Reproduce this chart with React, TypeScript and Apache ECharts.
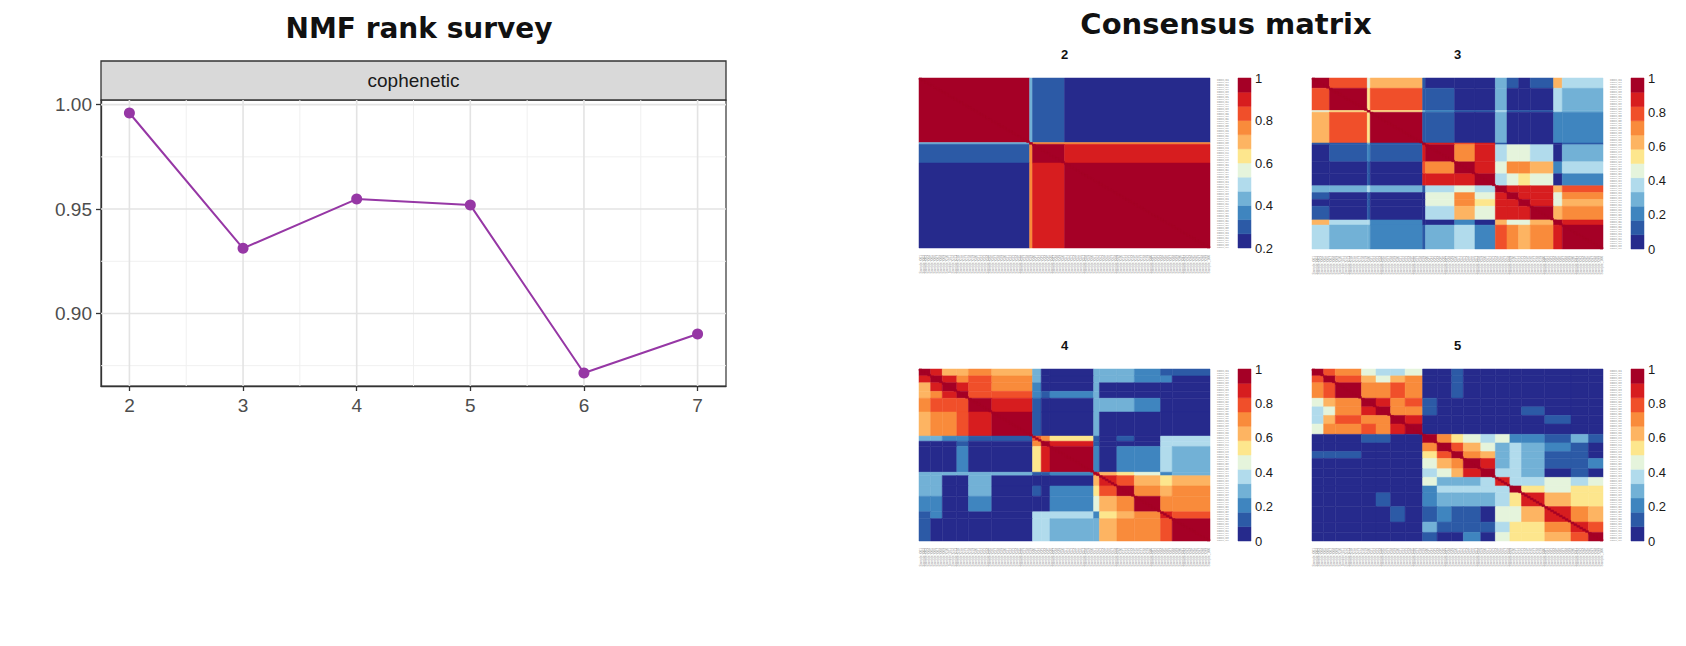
import React, { useEffect, useRef } from "react";
import * as echarts from "echarts";

// ---- NMF rank survey (cophenetic coefficient per factorization rank) ----
const RANKS = [2, 3, 4, 5, 6, 7];
const COPHENETIC = [0.996, 0.9312, 0.9548, 0.9519, 0.8715, 0.8902];
const X_TICKS = [2, 3, 4, 5, 6, 7];
const X_MINOR = [2.5, 3.5, 4.5, 5.5, 6.5];
const Y_TICKS = [0.9, 0.95, 1.0];
const Y_MINOR = [0.875, 0.925, 0.975];
const X_RANGE = [1.75, 7.25];
const Y_RANGE = [0.86527, 1.00223];

// ---- Consensus matrices: samples ordered by clustering, stored as a block matrix ----
// Each block matrix is given by segment sizes (samples per block) and the
// lower triangle of block-level consensus values (the matrix is symmetric).
const SAMPLES = Array.from({ length: 100 }, (_, i) => `Sample_${String(i + 1).padStart(3, "0")}`);

const K2_SEGMENTS = [38, 1, 11, 50];
const K2_LOWER = [
  [1.0],
  [0.44, 1.0],
  [0.3, 0.76, 0.97],
  [0.21, 0.76, 0.9, 0.97],
];
const K2_RANGE = [0.2, 1];

const K3_SEGMENTS = [6, 13, 1, 18, 1, 10, 7, 7, 4, 4, 4, 8, 3, 14];
const K3_LOWER = [
  [0.96],
  [0.8, 0.96],
  [0.45, 0.55, 1.0],
  [0.62, 0.8, 0.55, 0.96],
  [0.12, 0.12, 0.3, 0.12, 1.0],
  [0.03, 0.15, 0.2, 0.15, 0.9, 0.93],
  [0.03, 0.03, 0.1, 0.03, 0.75, 0.72, 0.96],
  [0.03, 0.03, 0.1, 0.03, 0.85, 0.88, 0.9, 0.94],
  [0.3, 0.3, 0.35, 0.28, 0.1, 0.35, 0.45, 0.38, 0.93],
  [0.15, 0.06, 0.15, 0.06, 0.05, 0.42, 0.7, 0.45, 0.88, 0.96],
  [0.03, 0.03, 0.1, 0.03, 0.05, 0.42, 0.7, 0.5, 0.88, 0.88, 0.95],
  [0.15, 0.03, 0.1, 0.03, 0.05, 0.36, 0.6, 0.45, 0.85, 0.88, 0.88, 0.95],
  [0.62, 0.38, 0.4, 0.2, 0.05, 0.05, 0.2, 0.08, 0.6, 0.45, 0.45, 0.6, 0.96],
  [0.36, 0.28, 0.3, 0.2, 0.15, 0.28, 0.35, 0.2, 0.8, 0.68, 0.62, 0.7, 0.88, 0.95],
];
const K3_RANGE = [0, 1];

const K4_SEGMENTS = [4, 4, 5, 4, 8, 14, 3, 3, 15, 2, 6, 6, 9, 4, 13];
const K4_LOWER = [
  [0.95],
  [0.85, 0.95],
  [0.62, 0.85, 0.93],
  [0.62, 0.72, 0.87, 0.93],
  [0.72, 0.78, 0.8, 0.8, 0.95],
  [0.66, 0.7, 0.72, 0.75, 0.88, 0.96],
  [0.3, 0.25, 0.2, 0.2, 0.15, 0.12, 0.8],
  [0.05, 0.05, 0.05, 0.12, 0.05, 0.05, 0.72, 0.95],
  [0.03, 0.03, 0.03, 0.2, 0.03, 0.03, 0.55, 0.85, 0.95],
  [0.3, 0.25, 0.25, 0.25, 0.25, 0.25, 0.15, 0.1, 0.2, 0.85],
  [0.28, 0.28, 0.05, 0.05, 0.25, 0.03, 0.05, 0.05, 0.05, 0.6, 0.9],
  [0.28, 0.28, 0.05, 0.05, 0.25, 0.03, 0.1, 0.05, 0.2, 0.5, 0.8, 0.92],
  [0.18, 0.18, 0.05, 0.05, 0.18, 0.03, 0.05, 0.05, 0.2, 0.45, 0.65, 0.72, 0.96],
  [0.15, 0.2, 0.05, 0.05, 0.05, 0.03, 0.4, 0.4, 0.4, 0.2, 0.55, 0.62, 0.7, 0.9],
  [0.1, 0.05, 0.03, 0.03, 0.03, 0.03, 0.4, 0.35, 0.32, 0.25, 0.64, 0.7, 0.68, 0.8, 0.95],
];
const K4_RANGE = [0, 1];

const K5_SEGMENTS = [4, 4, 9, 5, 5, 5, 6, 5, 5, 4, 6, 5, 5, 4, 8, 9, 6, 5];
const K5_LOWER = [
  [0.95],
  [0.8, 0.95],
  [0.68, 0.8, 0.92],
  [0.45, 0.62, 0.7, 0.95],
  [0.35, 0.45, 0.7, 0.85, 0.95],
  [0.4, 0.62, 0.78, 0.7, 0.7, 0.95],
  [0.48, 0.7, 0.7, 0.78, 0.7, 0.88, 0.96],
  [0.03, 0.03, 0.03, 0.15, 0.15, 0.03, 0.03, 0.92],
  [0.03, 0.03, 0.03, 0.03, 0.03, 0.03, 0.03, 0.7, 0.95],
  [0.12, 0.12, 0.12, 0.03, 0.03, 0.03, 0.03, 0.55, 0.76, 0.93],
  [0.03, 0.03, 0.03, 0.08, 0.03, 0.03, 0.03, 0.45, 0.65, 0.7, 0.93],
  [0.03, 0.03, 0.03, 0.03, 0.03, 0.03, 0.03, 0.38, 0.48, 0.66, 0.85, 0.95],
  [0.03, 0.03, 0.03, 0.03, 0.03, 0.03, 0.03, 0.42, 0.33, 0.32, 0.3, 0.35, 0.9],
  [0.03, 0.03, 0.03, 0.03, 0.03, 0.03, 0.03, 0.2, 0.38, 0.38, 0.35, 0.4, 0.4, 0.92],
  [0.03, 0.03, 0.03, 0.03, 0.12, 0.03, 0.03, 0.22, 0.3, 0.32, 0.3, 0.25, 0.35, 0.5, 0.88],
  [0.03, 0.03, 0.03, 0.03, 0.03, 0.1, 0.03, 0.12, 0.2, 0.1, 0.15, 0.08, 0.42, 0.42, 0.6, 0.9],
  [0.03, 0.03, 0.03, 0.03, 0.03, 0.03, 0.03, 0.25, 0.1, 0.12, 0.15, 0.1, 0.35, 0.55, 0.5, 0.72, 0.88],
  [0.03, 0.03, 0.03, 0.03, 0.03, 0.03, 0.03, 0.12, 0.05, 0.08, 0.2, 0.05, 0.42, 0.5, 0.55, 0.66, 0.78, 0.93],
];
const K5_RANGE = [0, 1];

// Stepped reversed RdYlBu palette, low (navy) to high (dark red)
const BAND_COLORS = [
  "#262a8c", "#2c5aa6", "#3f85bf", "#72b1d6", "#b1dbec", "#e5f4dc",
  "#fde68d", "#fdb462", "#f98b3b", "#f04f2a", "#d71d1f", "#a50026",
];

const SANS = "'Liberation Sans', Arial, sans-serif";
const TITLE_FONT = "'DejaVu Sans', sans-serif";

type Panel = {
  rank: string;
  segments: number[];
  lower: number[][];
  range: number[];
  left: number;
  top: number;
  width: number;
  height: number;
  barLeft: number;
};

const PANELS: Panel[] = [
  { rank: "2", segments: K2_SEGMENTS, lower: K2_LOWER, range: K2_RANGE, left: 919, top: 78, width: 291, height: 170, barLeft: 1238 },
  { rank: "3", segments: K3_SEGMENTS, lower: K3_LOWER, range: K3_RANGE, left: 1312, top: 78, width: 291, height: 171, barLeft: 1631 },
  { rank: "4", segments: K4_SEGMENTS, lower: K4_LOWER, range: K4_RANGE, left: 919, top: 369, width: 291, height: 172, barLeft: 1238 },
  { rank: "5", segments: K5_SEGMENTS, lower: K5_LOWER, range: K5_RANGE, left: 1312, top: 369, width: 291, height: 172, barLeft: 1631 },
];

function bandColor(v: number, lo: number, hi: number): string {
  const n = BAND_COLORS.length;
  let idx = Math.floor(((v - lo) / (hi - lo)) * n);
  if (idx < 0) idx = 0;
  if (idx > n - 1) idx = n - 1;
  return BAND_COLORS[idx];
}

// Expand a symmetric block matrix into rectangles [x0, x1, y0, y1, value]
function blockCells(segments: number[], lower: number[][]) {
  const starts: number[] = [];
  let acc = 0;
  segments.forEach((s) => {
    starts.push(acc);
    acc += s;
  });
  const cells: number[][] = [];
  for (let i = 0; i < segments.length; i++) {
    for (let j = 0; j < segments.length; j++) {
      const v = i >= j ? lower[i][j] : lower[j][i];
      cells.push([starts[j], starts[j] + segments[j], starts[i], starts[i] + segments[i], v]);
    }
  }
  return cells;
}

function rectItem(api: any, fill: string) {
  const p0 = api.coord([api.value(0), api.value(2)]);
  const p1 = api.coord([api.value(1), api.value(3)]);
  return {
    type: "rect",
    shape: {
      x: Math.min(p0[0], p1[0]),
      y: Math.min(p0[1], p1[1]),
      width: Math.abs(p1[0] - p0[0]),
      height: Math.abs(p1[1] - p0[1]),
    },
    style: { fill, stroke: fill, lineWidth: 0.5 },
  };
}

function buildOption() {
  const grids: any[] = [
    { left: 101, top: 100, width: 625, height: 286, show: true, borderColor: "#333", borderWidth: 1.2, backgroundColor: "#fff" },
  ];
  const xAxes: any[] = [
    {
      type: "value",
      gridIndex: 0,
      min: X_RANGE[0],
      max: X_RANGE[1],
      axisLine: { show: true, onZero: false, lineStyle: { color: "#333", width: 1.3 } },
      axisTick: { show: true, length: 5, customValues: X_TICKS, lineStyle: { color: "#333", width: 1.3 } },
      axisLabel: { customValues: X_TICKS, fontSize: 19, color: "#4d4d4d", margin: 10, fontFamily: SANS },
      splitLine: { show: false },
    },
  ];
  const yAxes: any[] = [
    {
      type: "value",
      gridIndex: 0,
      min: Y_RANGE[0],
      max: Y_RANGE[1],
      axisLine: { show: true, onZero: false, lineStyle: { color: "#333", width: 1.3 } },
      axisTick: { show: true, length: 5, customValues: Y_TICKS, lineStyle: { color: "#333", width: 1.3 } },
      axisLabel: {
        customValues: Y_TICKS,
        fontSize: 19,
        color: "#4d4d4d",
        margin: 9,
        fontFamily: SANS,
        formatter: (v: number) => v.toFixed(2),
      },
      splitLine: { show: false },
    },
  ];

  const gridLineSeries = (values: number[], vertical: boolean, color: string, width: number) => ({
    type: "custom",
    xAxisIndex: 0,
    yAxisIndex: 0,
    silent: true,
    z: 1,
    data: values.map((v) => (vertical ? [v, Y_RANGE[0]] : [X_RANGE[0], v])),
    renderItem: (_p: any, api: any) => {
      const v = vertical ? api.value(0) : api.value(1);
      const a = vertical ? api.coord([v, Y_RANGE[0]]) : api.coord([X_RANGE[0], v]);
      const b = vertical ? api.coord([v, Y_RANGE[1]]) : api.coord([X_RANGE[1], v]);
      return {
        type: "line",
        shape: { x1: a[0], y1: a[1], x2: b[0], y2: b[1] },
        style: { stroke: color, lineWidth: width },
      };
    },
  });

  const series: any[] = [
    gridLineSeries(Y_MINOR, false, "#f0f0f0", 1),
    gridLineSeries(X_MINOR, true, "#f0f0f0", 1),
    gridLineSeries(Y_TICKS, false, "#e3e3e3", 1.6),
    gridLineSeries(X_TICKS, true, "#e3e3e3", 1.6),
    {
      type: "line",
      name: "cophenetic",
      xAxisIndex: 0,
      yAxisIndex: 0,
      z: 3,
      data: RANKS.map((r, i) => [r, COPHENETIC[i]]),
      symbol: "circle",
      symbolSize: 11,
      itemStyle: { color: "#9637a5" },
      lineStyle: { color: "#9637a5", width: 2 },
    },
  ];

  const graphics: any[] = [
    {
      type: "text",
      x: 419,
      y: 28,
      style: { text: "NMF rank survey", font: `bold 28px ${TITLE_FONT}`, fill: "#111", textAlign: "center", textVerticalAlign: "middle" },
    },
    {
      type: "text",
      x: 1226,
      y: 24,
      style: { text: "Consensus matrix", font: `bold 29px ${TITLE_FONT}`, fill: "#111", textAlign: "center", textVerticalAlign: "middle" },
    },
    {
      type: "rect",
      shape: { x: 101, y: 61, width: 625, height: 39 },
      style: { fill: "#d9d9d9", stroke: "#333", lineWidth: 1.3 },
    },
    {
      type: "text",
      x: 413.5,
      y: 80.5,
      style: { text: "cophenetic", font: `19px ${SANS}`, fill: "#1a1a1a", textAlign: "center", textVerticalAlign: "middle" },
    },
  ];

  const N = SAMPLES.length;
  PANELS.forEach((p) => {
    const [lo, hi] = p.range;

    // heatmap
    const gi = grids.length;
    grids.push({ left: p.left, top: p.top, width: p.width, height: p.height });
    const xv = xAxes.length;
    xAxes.push({ type: "value", gridIndex: gi, min: 0, max: N, show: false, position: "top" });
    xAxes.push({
      type: "category",
      gridIndex: gi,
      data: SAMPLES,
      position: "bottom",
      axisLine: { show: false },
      axisTick: { show: false },
      splitLine: { show: false },
      axisLabel: { interval: 0, rotate: 90, fontSize: 3.3, color: "#8f8f8f", margin: 7, fontFamily: SANS },
    });
    const yv = yAxes.length;
    yAxes.push({ type: "value", gridIndex: gi, min: 0, max: N, inverse: true, show: false, position: "left" });
    yAxes.push({
      type: "category",
      gridIndex: gi,
      data: SAMPLES,
      inverse: true,
      position: "right",
      axisLine: { show: false },
      axisTick: { show: false },
      splitLine: { show: false },
      axisLabel: { interval: 0, fontSize: 2.1, color: "#8f8f8f", margin: 7, fontFamily: SANS },
    });
    series.push({
      type: "custom",
      name: `consensus k=${p.rank}`,
      xAxisIndex: xv,
      yAxisIndex: yv,
      silent: true,
      dimensions: ["x0", "x1", "y0", "y1", "value"],
      encode: { x: [0, 1], y: [2, 3] },
      data: blockCells(p.segments, p.lower),
      renderItem: (_params: any, api: any) => rectItem(api, bandColor(api.value(4), lo, hi)),
    });
    // every sample agrees with itself: consensus 1 on the diagonal
    series.push({
      type: "custom",
      name: `self k=${p.rank}`,
      xAxisIndex: xv,
      yAxisIndex: yv,
      silent: true,
      z: 3,
      dimensions: ["x0", "x1", "y0", "y1", "value"],
      encode: { x: [0, 1], y: [2, 3] },
      data: SAMPLES.map((_s, i) => [i, i + 1, i, i + 1, 1]),
      renderItem: (_params: any, api: any) => rectItem(api, bandColor(api.value(4), lo, hi)),
    });

    // colour key
    const ci = grids.length;
    grids.push({ left: p.barLeft, top: p.top, width: 13, height: p.height });
    const cx = xAxes.length;
    xAxes.push({ type: "value", gridIndex: ci, min: 0, max: 1, show: false });
    const cy = yAxes.length;
    yAxes.push({
      type: "value",
      gridIndex: ci,
      min: lo,
      max: hi,
      interval: 0.2,
      position: "right",
      axisLine: { show: false },
      axisTick: { show: false },
      splitLine: { show: false },
      axisLabel: { fontSize: 13, color: "#1a1a1a", margin: 4, fontFamily: SANS },
    });
    const step = (hi - lo) / BAND_COLORS.length;
    series.push({
      type: "custom",
      name: `key k=${p.rank}`,
      xAxisIndex: cx,
      yAxisIndex: cy,
      silent: true,
      dimensions: ["x0", "x1", "y0", "y1", "band"],
      encode: { x: [0, 1], y: [2, 3] },
      data: BAND_COLORS.map((_c, i) => [0, 1, lo + i * step, lo + (i + 1) * step, i]),
      renderItem: (_params: any, api: any) => rectItem(api, BAND_COLORS[api.value(4)]),
    });

    graphics.push({
      type: "text",
      x: p.left + p.width / 2,
      y: p.top - 24,
      style: { text: p.rank, font: `bold 13px ${SANS}`, fill: "#111", textAlign: "center", textVerticalAlign: "middle" },
    });
  });

  return {
    animation: false,
    backgroundColor: "#ffffff",
    grid: grids,
    xAxis: xAxes,
    yAxis: yAxes,
    series,
    graphic: graphics,
  };
}

export default function App() {
  const ref = useRef<HTMLDivElement>(null);
  useEffect(() => {
    document.body.style.margin = "0";
    const chart = echarts.init(ref.current!, null, { renderer: "svg" });
    chart.setOption(buildOption() as any);
    return () => {
      chart.dispose();
    };
  }, []);
  return <div ref={ref} style={{ width: 1686, height: 646, background: "#fff" }} />;
}
